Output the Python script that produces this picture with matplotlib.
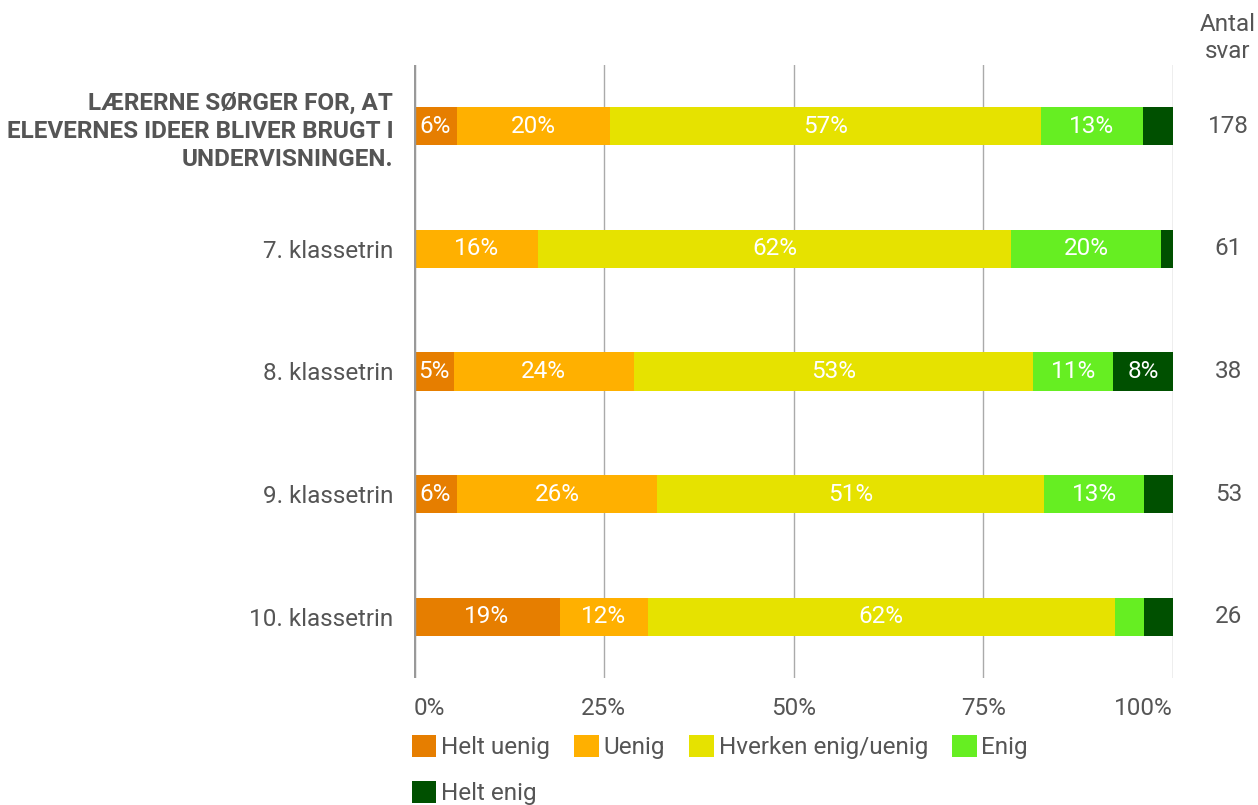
import numpy as np
import matplotlib.pyplot as plt
from matplotlib.patches import Patch

plt.rcParams['font.family'] = ['Roboto', 'DejaVu Sans']

rows = ['LÆRERNE SØRGER FOR, AT\nELEVERNES IDEER BLIVER BRUGT I\nUNDERVISNINGEN.',
        '7. klassetrin', '8. klassetrin', '9. klassetrin', '10. klassetrin']
antal = [178, 61, 38, 53, 26]
categories = ['Helt uenig', 'Uenig', 'Hverken enig/uenig', 'Enig', 'Helt enig']
colors = ['#E67E00', '#FFB000', '#E6E200', '#66EE22', '#005000']

# counts per answer category, row order as above
helt_uenig = [10, 0, 2, 3, 5]
uenig = [36, 10, 9, 14, 3]
hverken = [101, 38, 20, 27, 16]
enig = [24, 12, 4, 7, 1]
helt_enig = [7, 1, 3, 2, 1]

counts = np.array([helt_uenig, uenig, hverken, enig, helt_enig], dtype=float)
pct = counts / counts.sum(axis=0) * 100

text_col = '#555555'
fs = 17.5
fig = plt.figure(figsize=(12.58, 8.05), dpi=100)
ax = fig.add_axes([414 / 1258, 1 - 678 / 805, (1173 - 414) / 1258, (678 - 65) / 805])

y = np.arange(len(rows))
left = np.zeros(len(rows))
for i, cat in enumerate(categories):
    ax.barh(y, pct[i], left=left, height=0.31, color=colors[i], zorder=3)
    for j in range(len(rows)):
        if pct[i][j] >= 5:
            ax.text(left[j] + pct[i][j] / 2, y[j], '%d%%' % round(pct[i][j]),
                    ha='center', va='center', color='white', fontsize=fs, zorder=4)
    left += pct[i]

ax.set_xlim(0, 100)
ax.set_ylim(len(rows) - 0.5, -0.5)
ax.set_xticks([0, 25, 50, 75, 100])
ax.set_xticklabels(['0%', '25%', '50%', '75%', '100%'])
tl = ax.get_xticklabels()
tl[0].set_ha('left')
tl[-1].set_ha('right')
ax.tick_params(axis='x', length=0, pad=14, labelsize=fs, labelcolor=text_col)
ax.grid(axis='x', color='#aaaaaa', lw=1, zorder=0)
ax.axvline(0, color='#999999', lw=2.5, zorder=5)
for s in ax.spines.values():
    s.set_visible(False)

ax.set_yticks(y)
ax.set_yticklabels(rows)
ax.tick_params(axis='y', length=0, pad=15, labelsize=fs, labelcolor=text_col)
lab0 = ax.get_yticklabels()[0]
lab0.set_fontweight('bold')
lab0.set_fontsize(17.5)
lab0.set_multialignment('right')
lab0.set_linespacing(1.3)

# antal svar column
for j in range(len(rows)):
    ax.text(1.073, y[j], str(antal[j]), transform=ax.get_yaxis_transform(),
            ha='center', va='center', fontsize=fs, color=text_col)
fig.text(1228 / 1258, 1 - 38 / 805, 'Antal\nsvar', ha='center', va='center',
         fontsize=fs, color=text_col, linespacing=1.2)

# legend filled column-wise, so order the handles to read row-wise
handles = [Patch(facecolor=c, label=l) for c, l in zip(colors, categories)]
order = [0, 4, 1, 2, 3]
fig.legend(handles=[handles[k] for k in order], ncol=4, loc='upper left',
           bbox_to_anchor=(412 / 1258, 1 - 735 / 805), frameon=False,
           fontsize=fs, labelcolor=text_col, handlelength=1.0, handleheight=1.0,
           handletextpad=0.2, columnspacing=1.0, labelspacing=0.9, borderaxespad=0,
           borderpad=0)

fig.savefig('out.png', dpi=100)
